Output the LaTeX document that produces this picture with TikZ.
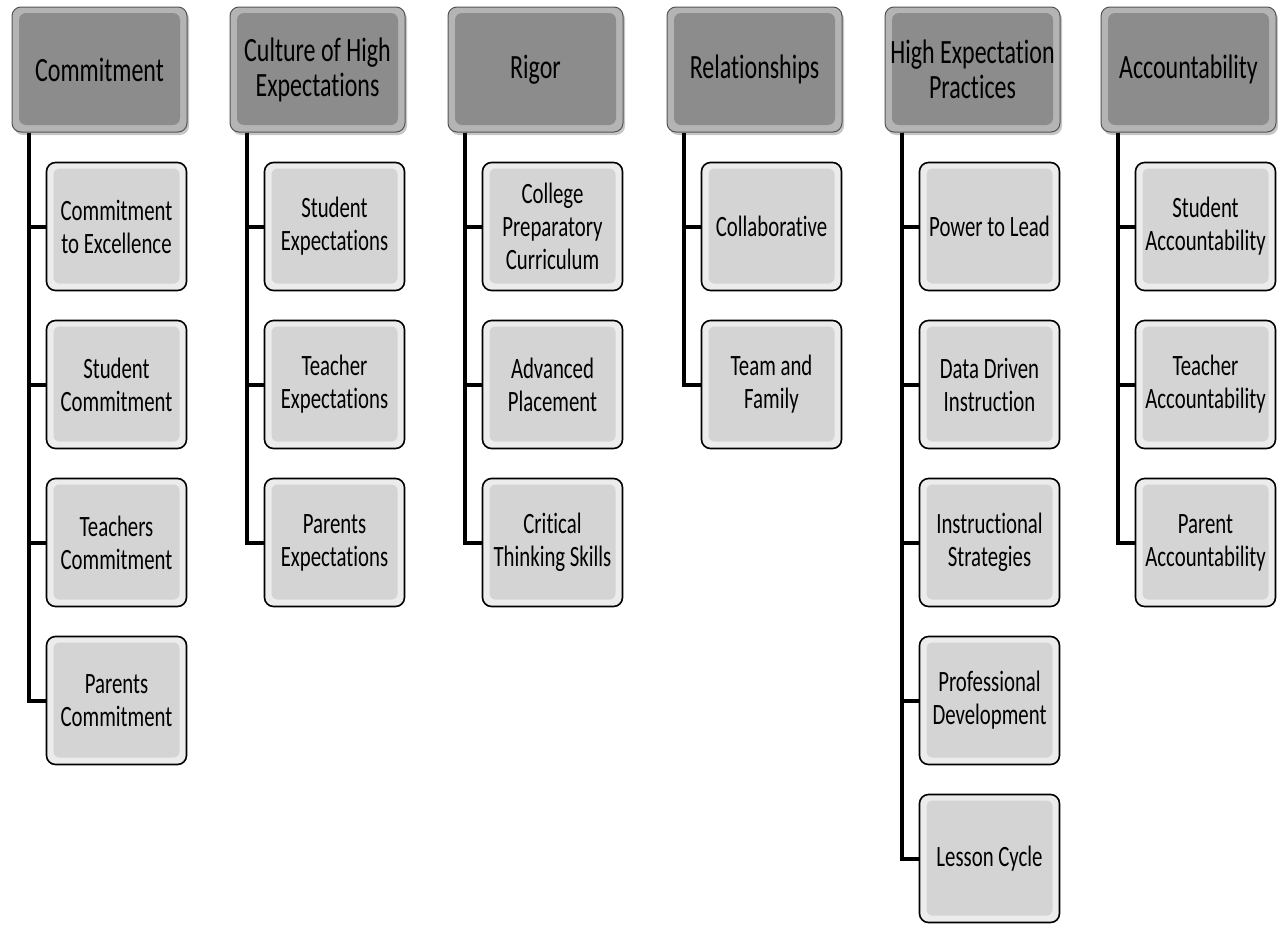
\documentclass[tikz,border=0pt]{standalone}
\usepackage{fontspec}
\setmainfont{Carlito}[FakeStretch=0.705, Ligatures=NoCommon]
\definecolor{HeadGray}{RGB}{140, 140, 140}
\definecolor{HeadEdge}{RGB}{180, 180, 180}
\definecolor{SubGray}{RGB}{212, 212, 212}
\definecolor{SubEdge}{RGB}{236, 236, 236}
\usepackage{tikz}
\usetikzlibrary{shadows}

\tikzset{
  head/.style={draw=HeadGray!60!black, line width=1pt, rounded corners=9pt,
    fill=HeadEdge, minimum width=175pt, minimum height=125pt, inner sep=0pt,
    align=center, font=\fontsize{34}{35}\selectfont,
    drop shadow={opacity=0.45, shadow xshift=2pt, shadow yshift=-3pt},
    path picture={\fill[HeadGray, rounded corners=7pt]
      ([shift={(7pt,-6pt)}]path picture bounding box.north west) rectangle
      ([shift={(-7pt,7pt)}]path picture bounding box.south east);}},
  sub/.style={draw=black, line width=1.6pt, rounded corners=9pt,
    fill=SubEdge, minimum width=140pt, minimum height=128pt, inner sep=0pt,
    align=center, font=\fontsize{29.5}{33}\selectfont,
    path picture={\fill[SubGray, rounded corners=6pt]
      ([shift={(7pt,-6pt)}]path picture bounding box.north west) rectangle
      ([shift={(-7pt,7pt)}]path picture bounding box.south east);}},
  link/.style={line width=4pt, black}
}

\begin{document}
\begin{tikzpicture}[x=1pt, y=-1pt]
  \useasboundingbox (0,0) rectangle (1278,926);

  % column heads
  \node[head] (commit) at (99.5,69.5) {Commitment};
  \node[head] (culture) at (317.5,69.5) {Culture of High\\Expectations};
  \node[head] (rigor) at (535.5,69.5) {Rigor};
  \node[head] (relation) at (754.5,69.5) {Relationships};
  \node[head] (practice) at (972.5,69.5) {High Expectation\\Practices};
  \node[head] (account) at (1188.5,69.5) {Accountability};

  % Commitment
  \node[sub] (commitA) at (116.5,226.5) {Commitment\\to Excellence};
  \node[sub] (commitB) at (116.5,384.5) {Student\\Commitment};
  \node[sub] (commitC) at (116.5,542.5) {Teachers\\Commitment};
  \node[sub] (commitD) at (116.5,700.5) {Parents\\Commitment};

  % Culture of High Expectations
  \node[sub] (cultureA) at (334.5,226.5) {Student\\Expectations};
  \node[sub] (cultureB) at (334.5,384.5) {Teacher\\Expectations};
  \node[sub] (cultureC) at (334.5,542.5) {Parents\\Expectations};

  % Rigor
  \node[sub] (rigorA) at (552.5,226.5) {College\\Preparatory\\Curriculum};
  \node[sub] (rigorB) at (552.5,384.5) {Advanced\\Placement};
  \node[sub] (rigorC) at (552.5,542.5) {Critical\\Thinking Skills};

  % Relationships
  \node[sub] (relationA) at (771.5,226.5) {Collaborative};
  \node[sub] (relationB) at (771.5,384.5) {Team and\\Family};

  % High Expectation Practices
  \node[sub] (practiceA) at (989.5,226.5) {Power to Lead};
  \node[sub] (practiceB) at (989.5,384.5) {Data Driven\\Instruction};
  \node[sub] (practiceC) at (989.5,542.5) {Instructional\\Strategies};
  \node[sub] (practiceD) at (989.5,700.5) {Professional\\Development};
  \node[sub] (practiceE) at (989.5,858.5) {Lesson Cycle};

  % Accountability
  \node[sub] (accountA) at (1205.5,226.5) {Student\\Accountability};
  \node[sub] (accountB) at (1205.5,384.5) {Teacher\\Accountability};
  \node[sub] (accountC) at (1205.5,542.5) {Parent\\Accountability};

  % connectors
  \foreach \s in {commitA,commitB,commitC,commitD}
    \draw[link] ([xshift=17pt]commit.south west) |- (\s.west);
  \foreach \s in {cultureA,cultureB,cultureC}
    \draw[link] ([xshift=17pt]culture.south west) |- (\s.west);
  \foreach \s in {rigorA,rigorB,rigorC}
    \draw[link] ([xshift=17pt]rigor.south west) |- (\s.west);
  \foreach \s in {relationA,relationB}
    \draw[link] ([xshift=17pt]relation.south west) |- (\s.west);
  \foreach \s in {practiceA,practiceB,practiceC,practiceD,practiceE}
    \draw[link] ([xshift=17pt]practice.south west) |- (\s.west);
  \foreach \s in {accountA,accountB,accountC}
    \draw[link] ([xshift=17pt]account.south west) |- (\s.west);
\end{tikzpicture}
\end{document}
